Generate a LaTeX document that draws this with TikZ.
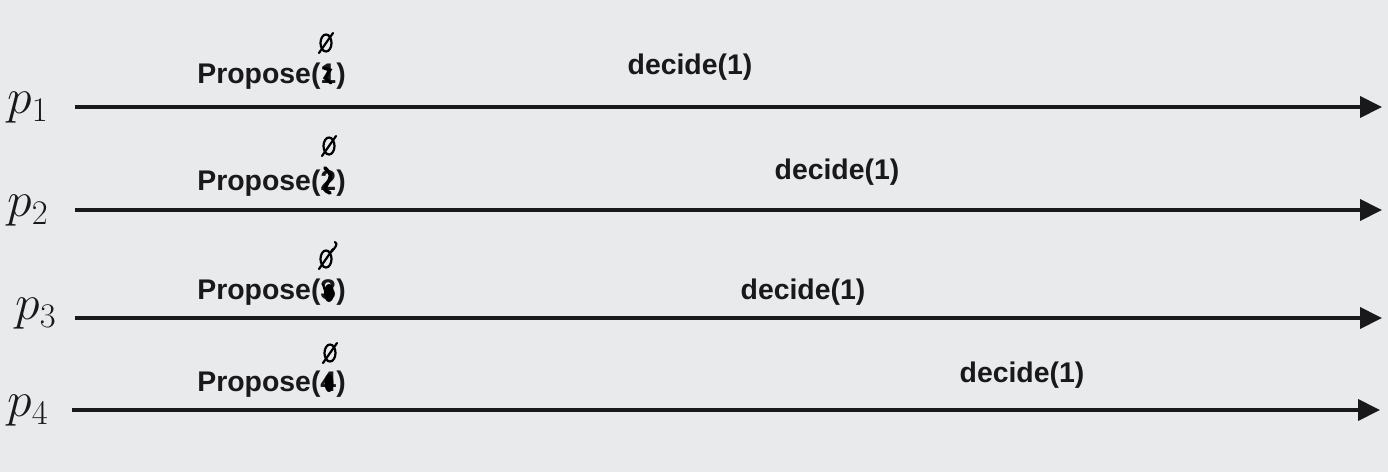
\documentclass[tikz,border=0pt]{standalone}
\usepackage{fontspec}
\setsansfont{Liberation Sans}
\usetikzlibrary{arrows.meta}
\definecolor{bg}{RGB}{233,234,236}
\definecolor{ink}{RGB}{25,25,28}
\tikzset{
  proc/.style={line width=2pt, draw=ink, -{Triangle[length=11pt,width=10.5pt]}},
  lbl/.style={font=\sffamily\bfseries\fontsize{14.2}{16}\selectfont, text=ink, inner sep=0pt},
  plabel/.style={font=\fontsize{24}{28}\selectfont, inner sep=0pt, text=ink},
  hand/.style={line width=1.1pt, draw=black, line cap=round},
  empt/.pic={
    \draw[hand] (0,0) ellipse (5.5 and 8.5);
    \draw[hand] (-7,10) -- (7,-10);
  }
}
\begin{document}
\begin{tikzpicture}[x=0.5pt,y=-0.5pt]
\fill[bg] (0,0) rectangle (1388,472);
\useasboundingbox (0,0) rectangle (1388,472);
% process labels
\node[plabel] (l1) at (28,108) {$p_1$};
\node[plabel] (l2) at (28,211) {$p_2$};
\node[plabel] (l3) at (36,314) {$p_3$};
\node[plabel] (l4) at (28,411) {$p_4$};
% line endpoints
\coordinate (s1) at (75,107);  \coordinate (e1) at (1382,107);
\coordinate (s2) at (75,210);  \coordinate (e2) at (1382,210);
\coordinate (s3) at (75,318);  \coordinate (e3) at (1382,318);
\coordinate (s4) at (72,410);  \coordinate (e4) at (1380,410);
\draw[proc] (s1) -- (e1);
\draw[proc] (s2) -- (e2);
\draw[proc] (s3) -- (e3);
\draw[proc] (s4) -- (e4);
% propose labels
\node[lbl, anchor=west] (pr1) at (197,76) {Propose(1)};
\node[lbl, anchor=west] (pr2) at (197,183) {Propose(2)};
\node[lbl, anchor=west] (pr3) at (197,292) {Propose(3)};
\node[lbl, anchor=west] (pr4) at (197,384) {Propose(4)};
% empty set marks (handwritten)
\pic (z1) at (326,43) {empt};
\pic (z2) at (329,146) {empt};
\pic (z3) at (326,259) {empt};
\draw[hand] (331,252) .. controls (336,247) and (338,244) .. (335,242);
\pic (z4) at (330,353) {empt};
% scribbles over digits
\draw[line width=1.6pt, line cap=round] (324,68) -- (330,70) -- (325,78) -- (331,83);
\draw[line width=1.8pt, line cap=round] (325,168) .. controls (332,175) .. (327,184) .. controls (324,190) .. (330,193);
\fill[black] (329,293) ellipse (5 and 9);
\draw[line width=1.2pt] (323,284) -- (328,300);
\fill[black] (329,383) ellipse (4.5 and 9);
% decide labels
\node[lbl] (d1) at (690,67) {decide(1)};
\node[lbl] (d2) at (837,172) {decide(1)};
\node[lbl] (d3) at (803,292) {decide(1)};
\node[lbl] (d4) at (1022,375) {decide(1)};
\end{tikzpicture}
\end{document}
